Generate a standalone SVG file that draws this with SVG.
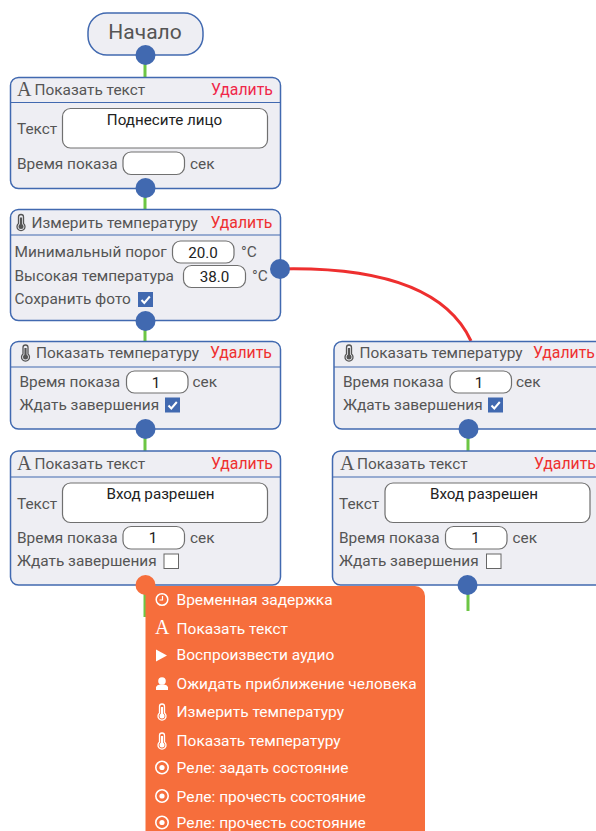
<svg xmlns="http://www.w3.org/2000/svg" xmlns:xlink="http://www.w3.org/1999/xlink" width="596" height="831" viewBox="0 0 596 831">
<style>
text{font-family:Roboto,"Liberation Sans",sans-serif;font-size:15.4px;fill:#555}
.n{fill:#eeeef3;stroke:#4169b0;stroke-width:1.5}
.h{stroke:#4169b0;stroke-width:1.2}
.d{fill:#f0274a;font-size:15.8px}
.del{fill:#ef3030;font-size:15.8px}
.f{fill:#fff;stroke:#707070;stroke-width:1.2}
.v{fill:#222;text-anchor:middle;font-size:15.2px}
.p{fill:#4169b0}
.g{stroke:#6cc644;stroke-width:3;fill:none}
.a{font-family:"Liberation Serif",serif;font-size:20px;fill:#555}
.w{fill:#fff;font-size:15.5px}
.aw{font-family:"Liberation Serif",serif;font-size:20px;fill:#fff}
.cb{fill:#fff;stroke:#666;stroke-width:1}
</style>
<defs>
<g id="therm"><path d="M-2.500-5.500a2.500 2.500 0 0 1 5 0V1a4 4 0 1 1-5 0z" fill="none" stroke="currentColor" stroke-width="1.300"/><circle cx="0" cy="4" r="2.500" fill="currentColor"/><path d="M0-5V4" stroke="currentColor" stroke-width="2.200"/></g>
<g id="chk"><rect width="15" height="15" fill="#4169b0"/><path d="M3.500 8l2.800 3 5.500-6.500" fill="none" stroke="#fff" stroke-width="2"/></g>
<g id="relay"><circle r="6.200" fill="none" stroke="#fff" stroke-width="1.600"/><circle r="2.600" fill="#fff"/></g>
</defs>

<g id="connectors">
<path class="g" d="M145 60V78M145 188V210M145 321V342M145 429V452M145 585V617M468 429V452M468 585V611"/>
<path d="M280 269C370 267 445 285 471 341" fill="none" stroke="#ee2f2f" stroke-width="3"/>
</g>

<g id="start"><rect class="n" x="88" y="13" width="115" height="42" rx="19"/><text x="145" y="39" text-anchor="middle" style="font-size:21px">Начало</text><circle class="p" cx="145.500" cy="55" r="10"/></g>

<g id="node1"><rect class="n" x="10.500" y="77.500" width="270" height="111" rx="8"/><path class="h" d="M10.500 102.500H280.500"/>
<text class="a" x="17" y="96">A</text><text x="34.500" y="95">Показать текст</text><text class="d" x="211" y="95">Удалить</text>
<text x="17" y="134">Текст</text><rect class="f" x="62.500" y="108.500" width="205" height="39.500" rx="8"/><text class="v" x="164.500" y="125">Поднесите лицо</text>
<text x="17" y="169">Время показа</text><rect class="f" x="123" y="152" width="61.500" height="22.500" rx="8"/><text x="190" y="169">сек</text>
<circle class="p" cx="145.500" cy="188" r="10"/></g>

<g id="node2"><rect class="n" x="10.500" y="209.500" width="270" height="111" rx="8"/><path class="h" d="M10.500 235H280.500"/>
<use href="#therm" x="21" y="222.500" color="#555"/><text x="31.500" y="228">Измерить температуру</text><text class="del" x="210.500" y="228">Удалить</text>
<text x="14.500" y="257">Минимальный порог</text><rect class="f" x="172.500" y="241" width="61.500" height="22" rx="8"/><text class="v" x="203" y="257.500">20.0</text><text x="241" y="257">°C</text>
<text x="14.500" y="281">Высокая температура</text><rect class="f" x="183.500" y="265.500" width="62" height="22" rx="8"/><text class="v" x="214.500" y="281.500">38.0</text><text x="252" y="281">°C</text>
<text x="14.500" y="304">Сохранить фото</text><use href="#chk" x="138" y="292"/>
<circle class="p" cx="280" cy="269" r="10"/><circle class="p" cx="145.500" cy="321" r="10"/></g>

<g id="node3"><rect class="n" x="10.500" y="341.500" width="270" height="87.500" rx="8"/><path class="h" d="M10.500 367H280.500"/>
<use href="#therm" x="25.500" y="353" color="#555"/><text x="36" y="358">Показать температуру</text><text class="del" x="210" y="358">Удалить</text>
<text x="19.500" y="387">Время показа</text><rect class="f" x="126.500" y="371" width="61.500" height="22" rx="8"/><text class="v" x="156" y="387.500">1</text><text x="192.500" y="387">сек</text>
<text x="19.500" y="410">Ждать завершения</text><use href="#chk" x="165" y="397.500"/>
<circle class="p" cx="145.500" cy="429" r="10"/></g>

<g id="node4"><rect class="n" x="10.500" y="451" width="270" height="134" rx="8"/><path class="h" d="M10.500 477H280.500"/>
<text class="a" x="17" y="470">A</text><text x="34.500" y="469">Показать текст</text><text class="del" x="211" y="469">Удалить</text>
<text x="17" y="509">Текст</text><rect class="f" x="62.500" y="483" width="205" height="39.500" rx="8"/><text class="v" x="160.500" y="499">Вход разрешен</text>
<text x="17" y="543">Время показа</text><rect class="f" x="123" y="526.500" width="61.500" height="22.500" rx="8"/><text class="v" x="153" y="543">1</text><text x="190" y="543">сек</text>
<text x="17" y="566">Ждать завершения</text><rect class="cb" x="164" y="554" width="14.500" height="14.500"/></g>

<g id="node5"><rect class="n" x="334" y="341.500" width="270" height="87.500" rx="8"/><path class="h" d="M334 367H604"/>
<use href="#therm" x="349" y="353" color="#555"/><text x="359.500" y="358">Показать температуру</text><text class="del" x="533" y="358">Удалить</text>
<text x="343" y="387">Время показа</text><rect class="f" x="450" y="371" width="61.500" height="22" rx="8"/><text class="v" x="479" y="387.500">1</text><text x="516" y="387">сек</text>
<text x="343" y="410">Ждать завершения</text><use href="#chk" x="488" y="397.500"/>
<circle class="p" cx="468.500" cy="429" r="10"/></g>

<g id="node6"><rect class="n" x="332.500" y="451" width="270" height="134" rx="8"/><path class="h" d="M332.500 477H602"/>
<text class="a" x="340" y="470">A</text><text x="357" y="469">Показать текст</text><text class="del" x="534" y="469">Удалить</text>
<text x="339" y="509">Текст</text><rect class="f" x="385" y="483" width="205" height="39.500" rx="8"/><text class="v" x="484" y="499">Вход разрешен</text>
<text x="339" y="543">Время показа</text><rect class="f" x="445.500" y="526.500" width="61.500" height="22.500" rx="8"/><text class="v" x="475.500" y="543">1</text><text x="512.500" y="543">сек</text>
<text x="339" y="566">Ждать завершения</text><rect class="cb" x="486.500" y="554" width="14.500" height="14.500"/>
<circle class="p" cx="467.500" cy="585" r="10"/></g>

<g id="menu"><path fill="#f66e3c" d="M145.500 586H415a10 10 0 0 1 10 10V831H145.500z"/>
<circle cx="145.500" cy="585" r="10" fill="#f66e3c"/>
<circle cx="162" cy="599.500" r="5.800" fill="none" stroke="#fff" stroke-width="1.500"/><path d="M162.500 596V600H159.500" fill="none" stroke="#fff" stroke-width="1.200"/>
<text class="w" x="176.500" y="605">Временная задержка</text>
<text class="aw" x="155" y="634">A</text><text class="w" x="176.500" y="634">Показать текст</text>
<path d="M156 649.500L167 655.500L156 661.500z" fill="#fff"/><text class="w" x="176.500" y="660">Воспроизвести аудио</text>
<circle cx="162" cy="681" r="3.800" fill="#fff"/><path d="M156 690V687Q157 684.500 160 684.500H164Q167 684.500 168 687V690z" fill="#fff"/><text class="w" x="176.500" y="689">Ожидать приближение человека</text>
<use href="#therm" x="162" y="712" color="#fff"/><text class="w" x="176.500" y="717">Измерить температуру</text>
<use href="#therm" x="162" y="741" color="#fff"/><text class="w" x="176.500" y="746">Показать температуру</text>
<use href="#relay" x="162" y="767.500"/><text class="w" x="176.500" y="773">Реле: задать состояние</text>
<use href="#relay" x="162" y="796"/><text class="w" x="176.500" y="802">Реле: прочесть состояние</text>
<use href="#relay" x="162" y="822.500"/><text class="w" x="176.500" y="827.500">Реле: прочесть состояние</text>
</g>
</svg>
